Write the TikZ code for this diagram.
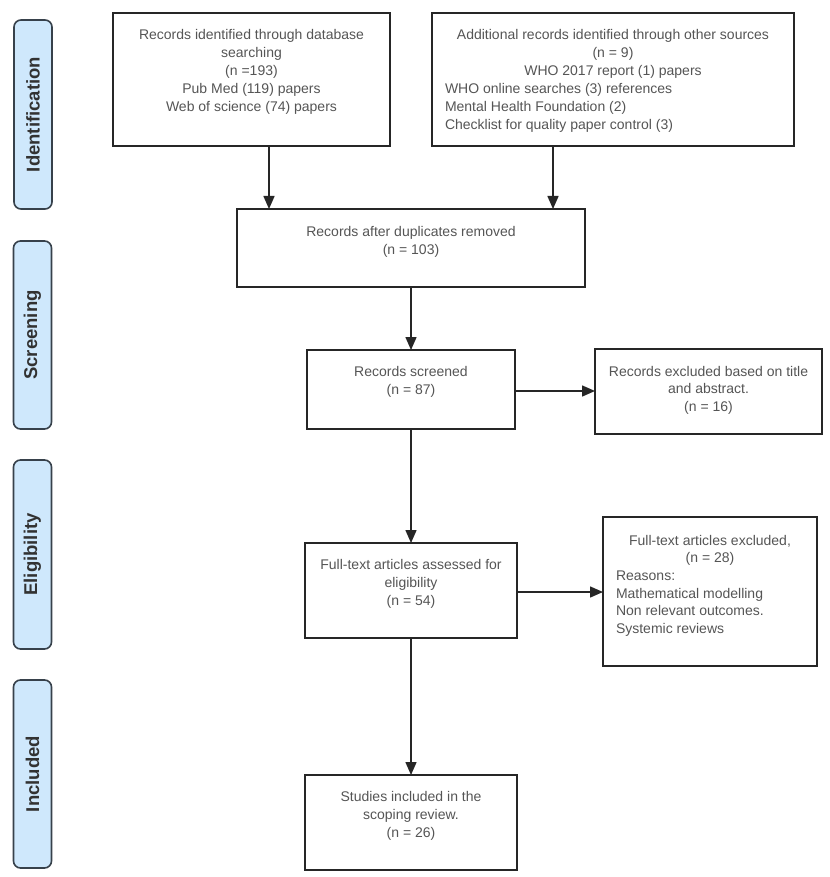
\documentclass[tikz,border=0pt]{standalone}
\usepackage{fontspec}
\setmainfont{Liberation Sans}
\usetikzlibrary{arrows.meta}
\definecolor{txt}{RGB}{85,85,85}
\definecolor{boxline}{RGB}{38,38,38}
\definecolor{stagefill}{RGB}{207,232,252}
\definecolor{stageline}{RGB}{55,65,75}
\definecolor{stagetxt}{RGB}{50,50,50}
\newcommand{\bx}[4]{\begin{minipage}[c][#2][t]{#1}\vspace*{#3}#4\end{minipage}}
\begin{document}
\begin{tikzpicture}[x=1pt,y=-1pt,
  box/.style={draw=boxline, line width=1.6pt, fill=white, inner sep=0pt, outer sep=0pt,
    text=txt, font=\fontsize{14}{18}\selectfont},
  stage/.style={draw=stageline, fill=stagefill, line width=1.6pt, rounded corners=7pt,
    rotate=90, minimum width=#1, minimum height=38pt, inner sep=0pt,
    text=stagetxt, font=\bfseries\fontsize{18.5}{20}\selectfont},
  arr/.style={draw=boxline, line width=1.5pt, -{Triangle[length=13pt,width=11pt]}}]
\useasboundingbox (0,0) rectangle (829,877);
\fill[white] (0,0) rectangle (829,877);

% stage labels
\node[stage=189] (s1) at (33,114.5) {Identification};
\node[stage=188] (s2) at (32.5,335) {Screening};
\node[stage=189] (s3) at (32.5,554.5) {Eligibility};
\node[stage=188] (s4) at (32.5,774) {Included};

% boxes
\node[box] (b1) at (251.5,79.5) {\bx{277pt}{133pt}{14pt}{\centering\strut Records identified through database\\ searching\\ (n =193)\\ Pub Med (119) papers\\ Web of science (74) papers\par}};
\node[box] (b2) at (613,79.5) {\bx{362pt}{133pt}{14pt}{{\centering\strut Additional records identified through other sources\\ (n = 9)\\ WHO 2017 report (1) papers\par}{\raggedright\leftskip=13pt WHO online searches (3) references\\ Mental Health Foundation (2)\\ Checklist for quality paper control (3)\par}}};
\node[box] (dup) at (411,248) {\bx{348pt}{78pt}{15pt}{\centering\strut Records after duplicates removed\\ (n = 103)\par}};
\node[box] (scr) at (411,389.5) {\bx{208pt}{79pt}{14pt}{\centering\strut Records screened\\ (n = 87)\par}};
\node[box] (ex1) at (708.5,391.5) {\bx{227pt}{85pt}{15pt}{\fontsize{14}{17.5}\selectfont\centering\strut Records excluded based on title\\ and abstract.\\ (n = 16)\par}};
\node[box] (ft) at (411,590.5) {\bx{212pt}{95pt}{14pt}{\centering\strut Full-text articles assessed for\\ eligibility\\ (n = 54)\par}};
\node[box] (ex2) at (710,591.5) {\bx{214pt}{149pt}{16pt}{\fontsize{14}{17.6}\selectfont{\centering\strut Full-text articles excluded,\\ (n = 28)\par}{\raggedright\leftskip=13pt Reasons:\\ Mathematical modelling\\ Non relevant outcomes.\\ Systemic reviews\par}}};
\node[box] (st) at (411,822.5) {\bx{212pt}{95pt}{14pt}{\centering\strut Studies included in the\\ scoping review.\\ (n = 26)\par}};

% connectors
\draw[arr] ([xshift=17.5pt]b1.south) -- ([xshift=17.5pt]b1.south |- dup.north);
\draw[arr] ([xshift=-60pt]b2.south) -- ([xshift=-60pt]b2.south |- dup.north);
\draw[arr] (dup.south) -- (scr.north);
\draw[arr] ([yshift=-1.5pt]scr.east) -- ([yshift=-1.5pt]scr.east -| ex1.west);
\draw[arr] (scr.south) -- (ft.north);
\draw[arr] ([yshift=-1.5pt]ft.east) -- ([yshift=-1.5pt]ft.east -| ex2.west);
\draw[arr] (ft.south) -- (st.north);
\end{tikzpicture}
\end{document}
